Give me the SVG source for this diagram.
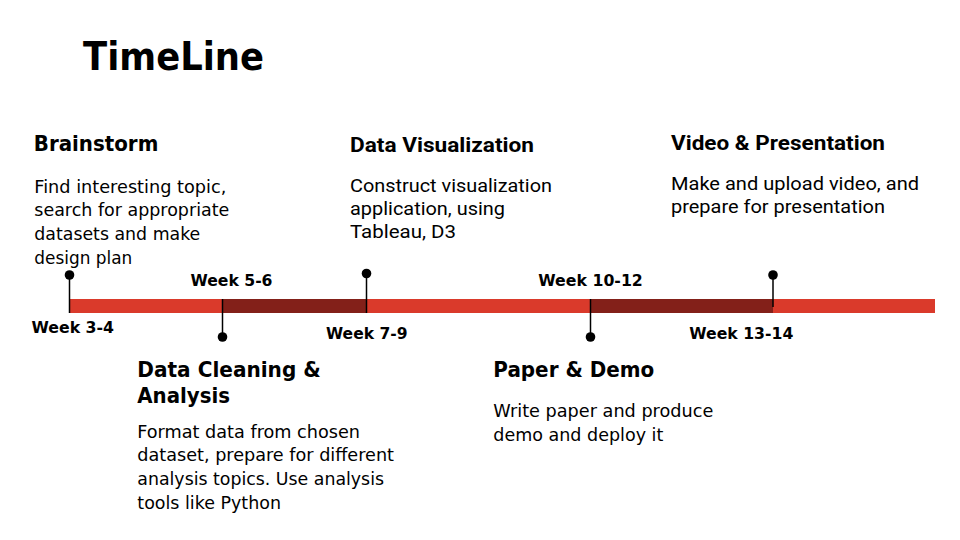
<svg xmlns="http://www.w3.org/2000/svg" width="960" height="540" viewBox="0 0 960 540">
<style>
.t{font-family:"DejaVu Sans","Liberation Sans",sans-serif;fill:#000}
.title{font-size:39px;font-weight:bold}
.h{font-size:21px;font-weight:bold}
.b{font-size:18px}
.w{font-size:15px;font-weight:bold}
.r{font-family:Roboto,"Liberation Sans",sans-serif;fill:#000}
.rh{font-size:19.5px;font-weight:bold}
.rb{font-size:18.5px}
.stem{stroke:#000;stroke-width:1.5}
</style>
<rect width="960" height="540" fill="#fff"/>
<text id="title" class="t title" x="83" y="69.5" textLength="181" lengthAdjust="spacingAndGlyphs">TimeLine</text>
<g id="timeline">
<rect x="69" y="299" width="866" height="14" fill="#DA3A2B"/>
<rect x="222" y="299" width="144" height="14" fill="#832019"/>
<rect x="590" y="299" width="183" height="14" fill="#832019"/>
</g>
<g id="connectors">
<line class="stem" x1="69.5" y1="275" x2="69.5" y2="313"/>
<circle cx="69.5" cy="275" r="4.8"/>
<line class="stem" x1="222.5" y1="299" x2="222.5" y2="337"/>
<circle cx="222.5" cy="337" r="4.8"/>
<line class="stem" x1="366.5" y1="273.5" x2="366.5" y2="313"/>
<circle cx="366.5" cy="273.5" r="4.8"/>
<line class="stem" x1="590.5" y1="299" x2="590.5" y2="337"/>
<circle cx="590.5" cy="337" r="4.8"/>
<line class="stem" x1="773" y1="275" x2="773" y2="307"/>
<circle cx="773" cy="275" r="4.8"/>
</g>
<g id="weeks">
<text class="t w" x="31.5" y="332.5" textLength="82.5" lengthAdjust="spacingAndGlyphs">Week 3-4</text>
<text class="t w" x="190.5" y="286" textLength="82" lengthAdjust="spacingAndGlyphs">Week 5-6</text>
<text class="t w" x="326" y="339.3" textLength="81.5" lengthAdjust="spacingAndGlyphs">Week 7-9</text>
<text class="t w" x="538.3" y="286" textLength="104.5" lengthAdjust="spacingAndGlyphs">Week 10-12</text>
<text class="t w" x="689.3" y="339.3" textLength="104" lengthAdjust="spacingAndGlyphs">Week 13-14</text>
</g>
<g id="brainstorm">
<text class="t h" x="33.8" y="150.7" textLength="124.5" lengthAdjust="spacingAndGlyphs">Brainstorm</text>
<text class="t b" x="34.3" y="192.7" textLength="192" lengthAdjust="spacingAndGlyphs">Find interesting topic,</text>
<text class="t b" x="34.3" y="216.4" textLength="195" lengthAdjust="spacingAndGlyphs">search for appropriate</text>
<text class="t b" x="34.3" y="240.1" textLength="166" lengthAdjust="spacingAndGlyphs">datasets and make</text>
<text class="t b" x="34.3" y="263.8" textLength="98" lengthAdjust="spacingAndGlyphs">design plan</text>
</g>
<g id="data-visualization">
<text class="r rh" x="350" y="151.7" textLength="184" lengthAdjust="spacingAndGlyphs">Data Visualization</text>
<text class="r rb" x="350" y="191.7" textLength="202" lengthAdjust="spacingAndGlyphs">Construct visualization</text>
<text class="r rb" x="350" y="215" textLength="155" lengthAdjust="spacingAndGlyphs">application, using</text>
<text class="r rb" x="350" y="238.3" textLength="106" lengthAdjust="spacingAndGlyphs">Tableau, D3</text>
</g>
<g id="video-presentation">
<text class="r rh" x="671" y="150" textLength="214" lengthAdjust="spacingAndGlyphs">Video &amp; Presentation</text>
<text class="r rb" x="671" y="189.5" textLength="248" lengthAdjust="spacingAndGlyphs">Make and upload video, and</text>
<text class="r rb" x="671" y="212.8" textLength="214" lengthAdjust="spacingAndGlyphs">prepare for presentation</text>
</g>
<g id="data-cleaning">
<text class="t h" x="137.3" y="376.7" textLength="183.5" lengthAdjust="spacingAndGlyphs">Data Cleaning &amp;</text>
<text class="t h" x="137.3" y="403.3" textLength="92.7" lengthAdjust="spacingAndGlyphs">Analysis</text>
<text class="t b" x="137.3" y="437.5" textLength="222.7" lengthAdjust="spacingAndGlyphs">Format data from chosen</text>
<text class="t b" x="137.3" y="461.4" textLength="256.7" lengthAdjust="spacingAndGlyphs">dataset, prepare for different</text>
<text class="t b" x="137.3" y="485.3" textLength="246.7" lengthAdjust="spacingAndGlyphs">analysis topics. Use analysis</text>
<text class="t b" x="137.3" y="509.2" textLength="143.7" lengthAdjust="spacingAndGlyphs">tools like Python</text>
</g>
<g id="paper-demo">
<text class="t h" x="493.3" y="376.7" textLength="161" lengthAdjust="spacingAndGlyphs">Paper &amp; Demo</text>
<text class="t b" x="493.3" y="416.9" textLength="220" lengthAdjust="spacingAndGlyphs">Write paper and produce</text>
<text class="t b" x="493.3" y="440.8" textLength="170" lengthAdjust="spacingAndGlyphs">demo and deploy it</text>
</g>
</svg>
